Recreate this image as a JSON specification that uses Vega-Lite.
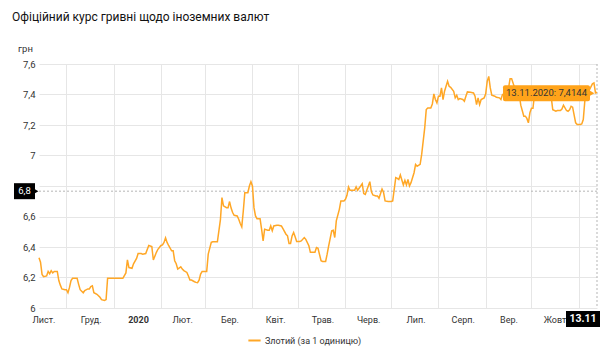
{
  "$schema": "https://vega.github.io/schema/vega-lite/v6.json",
  "width": 558,
  "height": 244,
  "autosize": "none",
  "padding": {"left": 39, "top": 64, "right": 7, "bottom": 42},
  "background": "white",
  "config": {"font": "Roboto", "view": {"stroke": null}},
  "title": {
    "text": "Офіційний курс гривні щодо іноземних валют",
    "anchor": "start",
    "frame": "group",
    "offset": 19,
    "dx": -27,
    "fontSize": 12,
    "fontWeight": "normal",
    "color": "#111111",
    "font": "Roboto"
  },
  "layer": [
    {
      "data": {"values": [{"rate": 6.766}]},
      "mark": {"type": "rule", "strokeDash": [2, 2], "color": "#b5b5b5", "strokeWidth": 1},
      "encoding": {"y": {"field": "rate", "type": "quantitative"}}
    },
    {
      "data": {"values": [{"date": "2020-11-13"}]},
      "mark": {"type": "rule", "strokeDash": [2, 2], "color": "#b5b5b5", "strokeWidth": 1},
      "encoding": {"x": {"field": "date", "type": "temporal"}}
    },
    {
      "data": {"values": [
        {"date": "2019-11-13", "rate": 6.33}, {"date": "2019-11-14", "rate": 6.30}, {"date": "2019-11-15", "rate": 6.22}, {"date": "2019-11-16", "rate": 6.205},
        {"date": "2019-11-18", "rate": 6.21}, {"date": "2019-11-19", "rate": 6.24}, {"date": "2019-11-20", "rate": 6.225}, {"date": "2019-11-21", "rate": 6.245},
        {"date": "2019-11-22", "rate": 6.23}, {"date": "2019-11-23", "rate": 6.24}, {"date": "2019-11-25", "rate": 6.24}, {"date": "2019-11-26", "rate": 6.18},
        {"date": "2019-11-27", "rate": 6.15}, {"date": "2019-11-28", "rate": 6.125}, {"date": "2019-11-30", "rate": 6.12}, {"date": "2019-12-01", "rate": 6.12},
        {"date": "2019-12-02", "rate": 6.10}, {"date": "2019-12-03", "rate": 6.135}, {"date": "2019-12-04", "rate": 6.18}, {"date": "2019-12-05", "rate": 6.195},
        {"date": "2019-12-07", "rate": 6.195}, {"date": "2019-12-08", "rate": 6.195}, {"date": "2019-12-09", "rate": 6.155}, {"date": "2019-12-10", "rate": 6.12},
        {"date": "2019-12-12", "rate": 6.10}, {"date": "2019-12-13", "rate": 6.115}, {"date": "2019-12-15", "rate": 6.125}, {"date": "2019-12-16", "rate": 6.125},
        {"date": "2019-12-17", "rate": 6.14}, {"date": "2019-12-18", "rate": 6.145}, {"date": "2019-12-19", "rate": 6.10}, {"date": "2019-12-21", "rate": 6.09},
        {"date": "2019-12-22", "rate": 6.08}, {"date": "2019-12-23", "rate": 6.07}, {"date": "2019-12-24", "rate": 6.055}, {"date": "2019-12-26", "rate": 6.05},
        {"date": "2019-12-27", "rate": 6.055}, {"date": "2019-12-28", "rate": 6.195}, {"date": "2019-12-30", "rate": 6.195}, {"date": "2020-01-01", "rate": 6.195},
        {"date": "2020-01-04", "rate": 6.195}, {"date": "2020-01-07", "rate": 6.195}, {"date": "2020-01-09", "rate": 6.23}, {"date": "2020-01-10", "rate": 6.315},
        {"date": "2020-01-11", "rate": 6.265}, {"date": "2020-01-13", "rate": 6.26}, {"date": "2020-01-14", "rate": 6.29}, {"date": "2020-01-16", "rate": 6.325},
        {"date": "2020-01-17", "rate": 6.357}, {"date": "2020-01-19", "rate": 6.357}, {"date": "2020-01-20", "rate": 6.353}, {"date": "2020-01-22", "rate": 6.357},
        {"date": "2020-01-24", "rate": 6.41}, {"date": "2020-01-26", "rate": 6.403}, {"date": "2020-01-27", "rate": 6.315}, {"date": "2020-01-29", "rate": 6.365},
        {"date": "2020-01-30", "rate": 6.385}, {"date": "2020-02-01", "rate": 6.41}, {"date": "2020-02-02", "rate": 6.414}, {"date": "2020-02-03", "rate": 6.43},
        {"date": "2020-02-04", "rate": 6.46}, {"date": "2020-02-05", "rate": 6.43}, {"date": "2020-02-06", "rate": 6.41}, {"date": "2020-02-08", "rate": 6.375},
        {"date": "2020-02-09", "rate": 6.375}, {"date": "2020-02-10", "rate": 6.31}, {"date": "2020-02-11", "rate": 6.29}, {"date": "2020-02-12", "rate": 6.255},
        {"date": "2020-02-14", "rate": 6.27}, {"date": "2020-02-15", "rate": 6.255}, {"date": "2020-02-16", "rate": 6.245}, {"date": "2020-02-18", "rate": 6.233},
        {"date": "2020-02-19", "rate": 6.21}, {"date": "2020-02-20", "rate": 6.183}, {"date": "2020-02-21", "rate": 6.183}, {"date": "2020-02-23", "rate": 6.172},
        {"date": "2020-02-24", "rate": 6.168}, {"date": "2020-02-25", "rate": 6.166}, {"date": "2020-02-26", "rate": 6.183}, {"date": "2020-02-27", "rate": 6.222},
        {"date": "2020-02-28", "rate": 6.24}, {"date": "2020-03-01", "rate": 6.24}, {"date": "2020-03-02", "rate": 6.24}, {"date": "2020-03-03", "rate": 6.353},
        {"date": "2020-03-05", "rate": 6.43}, {"date": "2020-03-06", "rate": 6.434}, {"date": "2020-03-08", "rate": 6.434}, {"date": "2020-03-09", "rate": 6.434},
        {"date": "2020-03-11", "rate": 6.58}, {"date": "2020-03-12", "rate": 6.724}, {"date": "2020-03-13", "rate": 6.67}, {"date": "2020-03-15", "rate": 6.658},
        {"date": "2020-03-16", "rate": 6.658}, {"date": "2020-03-17", "rate": 6.698}, {"date": "2020-03-18", "rate": 6.655}, {"date": "2020-03-19", "rate": 6.626},
        {"date": "2020-03-20", "rate": 6.608}, {"date": "2020-03-22", "rate": 6.604}, {"date": "2020-03-23", "rate": 6.582}, {"date": "2020-03-24", "rate": 6.554},
        {"date": "2020-03-25", "rate": 6.532}, {"date": "2020-03-26", "rate": 6.636}, {"date": "2020-03-27", "rate": 6.756}, {"date": "2020-03-29", "rate": 6.756},
        {"date": "2020-03-30", "rate": 6.80}, {"date": "2020-03-31", "rate": 6.828}, {"date": "2020-04-01", "rate": 6.80}, {"date": "2020-04-02", "rate": 6.658},
        {"date": "2020-04-03", "rate": 6.604}, {"date": "2020-04-04", "rate": 6.586}, {"date": "2020-04-06", "rate": 6.586}, {"date": "2020-04-07", "rate": 6.517},
        {"date": "2020-04-08", "rate": 6.44}, {"date": "2020-04-09", "rate": 6.517}, {"date": "2020-04-11", "rate": 6.51}, {"date": "2020-04-12", "rate": 6.51},
        {"date": "2020-04-13", "rate": 6.538}, {"date": "2020-04-14", "rate": 6.506}, {"date": "2020-04-15", "rate": 6.538}, {"date": "2020-04-17", "rate": 6.543},
        {"date": "2020-04-18", "rate": 6.543}, {"date": "2020-04-20", "rate": 6.538}, {"date": "2020-04-21", "rate": 6.52}, {"date": "2020-04-23", "rate": 6.484},
        {"date": "2020-04-24", "rate": 6.473}, {"date": "2020-04-25", "rate": 6.423}, {"date": "2020-04-26", "rate": 6.423}, {"date": "2020-04-27", "rate": 6.473},
        {"date": "2020-04-28", "rate": 6.495}, {"date": "2020-04-29", "rate": 6.467}, {"date": "2020-04-30", "rate": 6.436}, {"date": "2020-05-02", "rate": 6.436},
        {"date": "2020-05-03", "rate": 6.44}, {"date": "2020-05-05", "rate": 6.462}, {"date": "2020-05-06", "rate": 6.45}, {"date": "2020-05-08", "rate": 6.408},
        {"date": "2020-05-09", "rate": 6.365}, {"date": "2020-05-10", "rate": 6.365}, {"date": "2020-05-12", "rate": 6.365}, {"date": "2020-05-13", "rate": 6.397},
        {"date": "2020-05-14", "rate": 6.392}, {"date": "2020-05-16", "rate": 6.31}, {"date": "2020-05-17", "rate": 6.305}, {"date": "2020-05-19", "rate": 6.305},
        {"date": "2020-05-20", "rate": 6.353}, {"date": "2020-05-21", "rate": 6.408}, {"date": "2020-05-23", "rate": 6.506}, {"date": "2020-05-24", "rate": 6.51},
        {"date": "2020-05-25", "rate": 6.462}, {"date": "2020-05-26", "rate": 6.571}, {"date": "2020-05-28", "rate": 6.647}, {"date": "2020-05-29", "rate": 6.702},
        {"date": "2020-05-31", "rate": 6.702}, {"date": "2020-06-01", "rate": 6.713}, {"date": "2020-06-02", "rate": 6.739}, {"date": "2020-06-03", "rate": 6.794},
        {"date": "2020-06-04", "rate": 6.772}, {"date": "2020-06-06", "rate": 6.772}, {"date": "2020-06-07", "rate": 6.772}, {"date": "2020-06-08", "rate": 6.794},
        {"date": "2020-06-09", "rate": 6.772}, {"date": "2020-06-11", "rate": 6.80}, {"date": "2020-06-12", "rate": 6.815}, {"date": "2020-06-13", "rate": 6.75},
        {"date": "2020-06-14", "rate": 6.745}, {"date": "2020-06-16", "rate": 6.80}, {"date": "2020-06-17", "rate": 6.828}, {"date": "2020-06-18", "rate": 6.763},
        {"date": "2020-06-19", "rate": 6.741}, {"date": "2020-06-21", "rate": 6.735}, {"date": "2020-06-22", "rate": 6.735}, {"date": "2020-06-23", "rate": 6.72},
        {"date": "2020-06-25", "rate": 6.78}, {"date": "2020-06-26", "rate": 6.758}, {"date": "2020-06-27", "rate": 6.702}, {"date": "2020-06-29", "rate": 6.698},
        {"date": "2020-07-01", "rate": 6.698}, {"date": "2020-07-02", "rate": 6.702}, {"date": "2020-07-04", "rate": 6.855}, {"date": "2020-07-05", "rate": 6.85},
        {"date": "2020-07-06", "rate": 6.843}, {"date": "2020-07-07", "rate": 6.872}, {"date": "2020-07-09", "rate": 6.807}, {"date": "2020-07-10", "rate": 6.837},
        {"date": "2020-07-11", "rate": 6.807}, {"date": "2020-07-12", "rate": 6.843}, {"date": "2020-07-13", "rate": 6.80}, {"date": "2020-07-14", "rate": 6.822},
        {"date": "2020-07-16", "rate": 6.887}, {"date": "2020-07-17", "rate": 6.942}, {"date": "2020-07-18", "rate": 6.93}, {"date": "2020-07-20", "rate": 6.942},
        {"date": "2020-07-21", "rate": 7.007}, {"date": "2020-07-23", "rate": 7.181}, {"date": "2020-07-24", "rate": 7.301}, {"date": "2020-07-25", "rate": 7.312},
        {"date": "2020-07-27", "rate": 7.312}, {"date": "2020-07-28", "rate": 7.338}, {"date": "2020-07-29", "rate": 7.404}, {"date": "2020-07-30", "rate": 7.367},
        {"date": "2020-07-31", "rate": 7.345}, {"date": "2020-08-01", "rate": 7.389}, {"date": "2020-08-02", "rate": 7.389}, {"date": "2020-08-03", "rate": 7.443},
        {"date": "2020-08-04", "rate": 7.367}, {"date": "2020-08-05", "rate": 7.421}, {"date": "2020-08-06", "rate": 7.454}, {"date": "2020-08-07", "rate": 7.487},
        {"date": "2020-08-08", "rate": 7.454}, {"date": "2020-08-09", "rate": 7.447}, {"date": "2020-08-11", "rate": 7.421}, {"date": "2020-08-12", "rate": 7.378},
        {"date": "2020-08-13", "rate": 7.395}, {"date": "2020-08-14", "rate": 7.367}, {"date": "2020-08-15", "rate": 7.373}, {"date": "2020-08-17", "rate": 7.367},
        {"date": "2020-08-18", "rate": 7.356}, {"date": "2020-08-19", "rate": 7.389}, {"date": "2020-08-20", "rate": 7.417}, {"date": "2020-08-22", "rate": 7.415},
        {"date": "2020-08-24", "rate": 7.41}, {"date": "2020-08-25", "rate": 7.389}, {"date": "2020-08-26", "rate": 7.334}, {"date": "2020-08-27", "rate": 7.378},
        {"date": "2020-08-28", "rate": 7.334}, {"date": "2020-08-29", "rate": 7.367}, {"date": "2020-08-31", "rate": 7.378}, {"date": "2020-09-01", "rate": 7.404},
        {"date": "2020-09-02", "rate": 7.487}, {"date": "2020-09-03", "rate": 7.519}, {"date": "2020-09-04", "rate": 7.443}, {"date": "2020-09-05", "rate": 7.395},
        {"date": "2020-09-07", "rate": 7.389}, {"date": "2020-09-08", "rate": 7.382}, {"date": "2020-09-10", "rate": 7.378}, {"date": "2020-09-11", "rate": 7.367},
        {"date": "2020-09-12", "rate": 7.40}, {"date": "2020-09-13", "rate": 7.404}, {"date": "2020-09-15", "rate": 7.41}, {"date": "2020-09-16", "rate": 7.443},
        {"date": "2020-09-17", "rate": 7.504}, {"date": "2020-09-18", "rate": 7.504}, {"date": "2020-09-20", "rate": 7.443}, {"date": "2020-09-21", "rate": 7.421},
        {"date": "2020-09-22", "rate": 7.454}, {"date": "2020-09-23", "rate": 7.40}, {"date": "2020-09-24", "rate": 7.33}, {"date": "2020-09-26", "rate": 7.258},
        {"date": "2020-09-27", "rate": 7.258}, {"date": "2020-09-28", "rate": 7.243}, {"date": "2020-09-29", "rate": 7.214}, {"date": "2020-09-30", "rate": 7.28},
        {"date": "2020-10-01", "rate": 7.31}, {"date": "2020-10-02", "rate": 7.31}, {"date": "2020-10-03", "rate": 7.40}, {"date": "2020-10-05", "rate": 7.42},
        {"date": "2020-10-07", "rate": 7.43}, {"date": "2020-10-09", "rate": 7.41}, {"date": "2020-10-12", "rate": 7.42}, {"date": "2020-10-14", "rate": 7.38},
        {"date": "2020-10-15", "rate": 7.30}, {"date": "2020-10-17", "rate": 7.29}, {"date": "2020-10-18", "rate": 7.295}, {"date": "2020-10-20", "rate": 7.295},
        {"date": "2020-10-21", "rate": 7.305}, {"date": "2020-10-22", "rate": 7.33}, {"date": "2020-10-24", "rate": 7.295}, {"date": "2020-10-25", "rate": 7.29},
        {"date": "2020-10-26", "rate": 7.30}, {"date": "2020-10-27", "rate": 7.323}, {"date": "2020-10-28", "rate": 7.317}, {"date": "2020-10-30", "rate": 7.214},
        {"date": "2020-10-31", "rate": 7.203}, {"date": "2020-11-02", "rate": 7.203}, {"date": "2020-11-03", "rate": 7.207}, {"date": "2020-11-04", "rate": 7.236},
        {"date": "2020-11-05", "rate": 7.356}, {"date": "2020-11-06", "rate": 7.389}, {"date": "2020-11-07", "rate": 7.41}, {"date": "2020-11-09", "rate": 7.45},
        {"date": "2020-11-10", "rate": 7.47}, {"date": "2020-11-11", "rate": 7.476}, {"date": "2020-11-12", "rate": 7.41}, {"date": "2020-11-13", "rate": 7.4144}
      ]},
      "mark": {"type": "line", "strokeWidth": 1.5, "interpolate": "linear"},
      "encoding": {
        "x": {
          "field": "date",
          "type": "temporal",
          "scale": {"type": "utc", "domain": [{"year": 2019, "month": 11, "date": 13, "utc": true}, {"year": 2020, "month": 11, "date": 13, "utc": true}]},
          "axis": {
            "values": [
              {"year": 2019, "month": 12, "date": 1, "utc": true},
              {"year": 2020, "month": 1, "date": 1, "utc": true},
              {"year": 2020, "month": 2, "date": 1, "utc": true},
              {"year": 2020, "month": 3, "date": 1, "utc": true},
              {"year": 2020, "month": 4, "date": 1, "utc": true},
              {"year": 2020, "month": 5, "date": 1, "utc": true},
              {"year": 2020, "month": 6, "date": 1, "utc": true},
              {"year": 2020, "month": 7, "date": 1, "utc": true},
              {"year": 2020, "month": 8, "date": 1, "utc": true},
              {"year": 2020, "month": 9, "date": 1, "utc": true},
              {"year": 2020, "month": 10, "date": 1, "utc": true},
              {"year": 2020, "month": 11, "date": 1, "utc": true}
            ],
            "tickCount": 20,
            "labelExpr": "utcmonth(datum.value) === 1 ? '2020' : ['Груд.','Січ.','Лют.','Бер.','Квіт.','Трав.','Черв.','Лип.','Серп.','Вер.','Жовт.','Лист.'][utcmonth(datum.value)]",
            "labelFontWeight": {"condition": {"test": "utcmonth(datum.value) === 1", "value": "bold"}, "value": "normal"},
            "labelOffset": -23,
            "labelAlign": "center",
            "labelBaseline": "middle",
            "labelPadding": 11,
            "labelFontSize": 9,
            "labelColor": "#333333",
            "labelOverlap": false,
            "labelBound": false,
            "labelFlush": false,
            "grid": true,
            "gridColor": "#e6e6e6",
            "domain": false,
            "ticks": false,
            "title": null,
            "zindex": 0
          }
        },
        "y": {
          "field": "rate",
          "type": "quantitative",
          "scale": {"domain": [6, 7.6], "nice": false, "zero": false},
          "axis": {
            "values": [6, 6.2, 6.4, 6.6, 6.8, 7, 7.2, 7.4, 7.6],
            "tickCount": 20,
            "labelExpr": "abs(datum.value - 6.8) < 0.01 ? '' : replace(format(datum.value, '.1~f'), '.', ',')",
            "labelOverlap": false,
            "grid": true,
            "gridColor": "#e6e6e6",
            "domain": false,
            "ticks": false,
            "labelPadding": 4,
            "labelFontSize": 9.5,
            "labelColor": "#333333",
            "title": "грн",
            "titleAngle": 0,
            "titleX": -14,
            "titleY": -16,
            "titleAlign": "center",
            "titleBaseline": "middle",
            "titleFontSize": 9.5,
            "titleFontWeight": "normal",
            "titleColor": "#333333",
            "zindex": 0
          }
        },
        "color": {
          "datum": "Злотий (за 1 одиницю)",
          "type": "nominal",
          "scale": {"range": ["#FFA726"]},
          "legend": {
            "title": null,
            "orient": "none",
            "legendX": 208,
            "legendY": 269,
            "symbolType": "stroke",
            "symbolStrokeWidth": 2,
            "symbolSize": 150,
            "labelOffset": 3,
            "labelFontSize": 9,
            "labelColor": "#333333"
          }
        }
      }
    },
    {
      "data": {"values": [{"date": "2019-11-13", "rate": 6.766, "label": "6,8"}]},
      "layer": [
        {
          "mark": {"type": "rect", "color": "#000000", "xOffset": -25, "x2Offset": -4, "yOffset": -8, "y2Offset": 8},
          "encoding": {
            "x": {"field": "date", "type": "temporal"},
            "x2": {"field": "date"},
            "y": {"field": "rate", "type": "quantitative"},
            "y2": {"field": "rate"}
          }
        },
        {
          "mark": {"type": "point", "shape": "triangle-right", "filled": true, "color": "#000000", "size": 30, "opacity": 1, "xOffset": -3},
          "encoding": {
            "x": {"field": "date", "type": "temporal"},
            "y": {"field": "rate", "type": "quantitative"}
          }
        },
        {
          "mark": {"type": "text", "color": "#ffffff", "fontSize": 9.5, "xOffset": -14.5, "align": "center", "baseline": "middle"},
          "encoding": {
            "x": {"field": "date", "type": "temporal"},
            "y": {"field": "rate", "type": "quantitative"},
            "text": {"field": "label"}
          }
        }
      ]
    },
    {
      "data": {"values": [{"date": "2020-11-13", "rate": 6, "label": "13.11"}]},
      "layer": [
        {
          "mark": {"type": "rect", "color": "#000000", "xOffset": -31, "x2Offset": 3, "yOffset": 3, "y2Offset": 19},
          "encoding": {
            "x": {"field": "date", "type": "temporal"},
            "x2": {"field": "date"},
            "y": {"field": "rate", "type": "quantitative"},
            "y2": {"field": "rate"}
          }
        },
        {
          "mark": {"type": "text", "color": "#ffffff", "fontSize": 10.5, "fontWeight": "bold", "xOffset": -14, "yOffset": 11, "align": "center", "baseline": "middle"},
          "encoding": {
            "x": {"field": "date", "type": "temporal"},
            "y": {"field": "rate", "type": "quantitative"},
            "text": {"field": "label"}
          }
        }
      ]
    },
    {
      "data": {"values": [{"date": "2020-11-13", "rate": 7.4144, "label": "13.11.2020: 7,4144"}]},
      "layer": [
        {
          "mark": {"type": "rect", "color": "#FFA31A", "cornerRadius": 2, "xOffset": -94, "x2Offset": -7, "yOffset": -7, "y2Offset": 9},
          "encoding": {
            "x": {"field": "date", "type": "temporal"},
            "x2": {"field": "date"},
            "y": {"field": "rate", "type": "quantitative"},
            "y2": {"field": "rate"}
          }
        },
        {
          "mark": {"type": "point", "shape": "triangle-right", "filled": true, "color": "#FFA31A", "size": 30, "opacity": 1, "xOffset": -5, "yOffset": 1},
          "encoding": {
            "x": {"field": "date", "type": "temporal"},
            "y": {"field": "rate", "type": "quantitative"}
          }
        },
        {
          "mark": {"type": "text", "color": "#333333", "fontSize": 9.5, "xOffset": -50.5, "yOffset": 1, "align": "center", "baseline": "middle"},
          "encoding": {
            "x": {"field": "date", "type": "temporal"},
            "y": {"field": "rate", "type": "quantitative"},
            "text": {"field": "label"}
          }
        }
      ]
    }
  ]
}
